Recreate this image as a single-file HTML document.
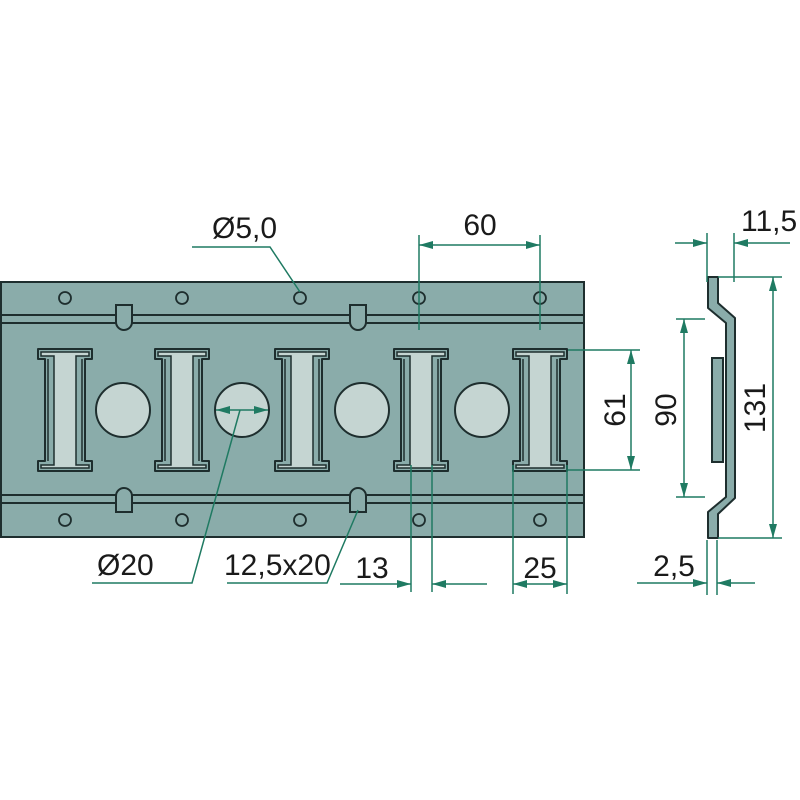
<!DOCTYPE html>
<html><head><meta charset="utf-8"><style>body{margin:0;background:#fff}svg{display:block}text{font-family:"Liberation Sans",sans-serif;font-size:30px;fill:#1a1a1a}</style></head><body>
<svg width="800" height="800" viewBox="0 0 800 800" xmlns="http://www.w3.org/2000/svg">
<defs>
<marker id="a" viewBox="0 0 14 8" refX="14" refY="4" markerWidth="14" markerHeight="8" markerUnits="userSpaceOnUse" orient="auto-start-reverse"><path d="M0,0L14,4L0,8z" fill="#1f7a62"/></marker>
<g id="I">
<path d="M-27,349H27V359H20V461H27V471H-27V461H-20V359H-27Z" fill="#8aacaa" stroke="#1e2e2e" stroke-width="2" stroke-linejoin="round"/>
<path d="M-24,352H24V356H11V465H24V468H-24V465H-11V356H-24Z" fill="#c5d5d2" stroke="#1e2e2e" stroke-width="1.5"/>
<line x1="-17" y1="359" x2="-17" y2="461" stroke="#1e2e2e" stroke-width="1.5"/>
<line x1="17" y1="359" x2="17" y2="461" stroke="#1e2e2e" stroke-width="1.5"/>
</g>
</defs>
<rect x="1" y="282" width="583" height="255" fill="#8aacaa" stroke="#1e2e2e" stroke-width="2"/>
<g stroke="#1e2e2e" stroke-width="2" fill="none">
<line x1="1" y1="315" x2="584" y2="315"/><line x1="1" y1="323" x2="584" y2="323"/>
<line x1="1" y1="495" x2="584" y2="495"/><line x1="1" y1="503" x2="584" y2="503"/>
</g>
<g fill="#8aacaa" stroke="#1e2e2e" stroke-width="2">
<path d="M116,305H132V322A8,8 0 0 1 116,322Z"/><path d="M350,305H366V322A8,8 0 0 1 350,322Z"/>
<path d="M116,512H132V496A8,8 0 0 0 116,496Z"/><path d="M350,512H366V496A8,8 0 0 0 350,496Z"/>
</g>
<g fill="#8aacaa" stroke="#1e2e2e" stroke-width="1.8">
<circle cx="65" cy="298" r="6"/><circle cx="182" cy="298" r="6"/><circle cx="300" cy="298" r="6"/><circle cx="419" cy="298" r="6"/><circle cx="540" cy="298" r="6"/>
<circle cx="65" cy="520" r="6"/><circle cx="182" cy="520" r="6"/><circle cx="300" cy="520" r="6"/><circle cx="419" cy="520" r="6"/><circle cx="540" cy="520" r="6"/>
</g>
<use href="#I" x="65"/><use href="#I" x="182"/><use href="#I" x="302"/><use href="#I" x="421"/><use href="#I" x="540"/>
<g fill="#c5d5d2" stroke="#1e2e2e" stroke-width="2">
<circle cx="123" cy="410" r="27"/><circle cx="242" cy="410" r="27"/><circle cx="362" cy="410" r="27"/><circle cx="482" cy="410" r="27"/>
</g>
<path d="M708,277H718V303L735,318V498L718,514V538H708V512L726,497V323L708,308Z" fill="#8aacaa" stroke="#1e2e2e" stroke-width="2" stroke-linejoin="round"/>
<rect x="712" y="358" width="11" height="104" fill="#8aacaa" stroke="#1e2e2e" stroke-width="2"/>
<g stroke="#1f7a62" stroke-width="1.5" fill="none">
<line x1="216" y1="410" x2="268" y2="410" marker-start="url(#a)" marker-end="url(#a)"/>
<polyline points="92,583 192,583 240,410"/>
<polyline points="227,583 327,583 358,510"/>
<polyline points="192,247 270,247 300,292"/>
<line x1="419" y1="235" x2="419" y2="330"/><line x1="540" y1="235" x2="540" y2="330"/>
<line x1="419" y1="245" x2="540" y2="245" marker-start="url(#a)" marker-end="url(#a)"/>
<line x1="568" y1="350" x2="640" y2="350"/><line x1="568" y1="470" x2="640" y2="470"/>
<line x1="631" y1="350" x2="631" y2="470" marker-start="url(#a)" marker-end="url(#a)"/>
<line x1="411" y1="465" x2="411" y2="592"/><line x1="432" y1="465" x2="432" y2="592"/>
<line x1="340" y1="584" x2="411" y2="584" marker-end="url(#a)"/><line x1="487" y1="584" x2="432" y2="584" marker-end="url(#a)"/>
<line x1="513" y1="465" x2="513" y2="594"/><line x1="567" y1="465" x2="567" y2="594"/>
<line x1="513" y1="584" x2="567" y2="584" marker-start="url(#a)" marker-end="url(#a)"/>
<line x1="676" y1="319" x2="705" y2="319"/><line x1="676" y1="497" x2="705" y2="497"/>
<line x1="684" y1="319" x2="684" y2="497" marker-start="url(#a)" marker-end="url(#a)"/>
<line x1="718" y1="277" x2="782" y2="277"/><line x1="718" y1="538" x2="782" y2="538"/>
<line x1="773" y1="277" x2="773" y2="538" marker-start="url(#a)" marker-end="url(#a)"/>
<line x1="707" y1="233" x2="707" y2="282"/><line x1="734" y1="233" x2="734" y2="282"/>
<line x1="675" y1="243" x2="707" y2="243" marker-end="url(#a)"/><line x1="790" y1="243" x2="734" y2="243" marker-end="url(#a)"/>
<line x1="707" y1="540" x2="707" y2="595"/><line x1="717" y1="540" x2="717" y2="595"/>
<line x1="637" y1="583" x2="707" y2="583" marker-end="url(#a)"/><line x1="755" y1="583" x2="717" y2="583" marker-end="url(#a)"/>
</g>
<text x="212" y="238">Ø5,0</text>
<text x="480" y="235" text-anchor="middle">60</text>
<text x="741" y="231">11,5</text>
<text x="97" y="575">Ø20</text>
<text x="224" y="575">12,5x20</text>
<text x="372" y="578" text-anchor="middle">13</text>
<text x="540" y="578" text-anchor="middle">25</text>
<text x="674" y="576" text-anchor="middle">2,5</text>
<text transform="translate(625,410) rotate(-90)" text-anchor="middle">61</text>
<text transform="translate(676,410) rotate(-90)" text-anchor="middle">90</text>
<text transform="translate(765,408) rotate(-90)" text-anchor="middle">131</text>
</svg>
</body></html>
